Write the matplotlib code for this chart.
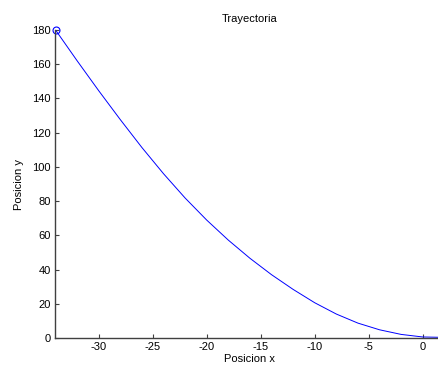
import matplotlib
matplotlib.use("Agg")
import matplotlib.pyplot as plt

# Data
pos_x = [-34.0, -32.0, -30.0, -28.0, -26.0, -24.0, -22.0, -20.0, -18.0, -16.0,
         -14.0, -12.0, -10.0, -8.0, -6.0, -4.0, -2.0, 0.0, 2.5]
pos_y = [180.0, 162.0, 144.5, 127.6, 111.3, 96.0, 81.8, 68.9, 57.2, 46.6,
         37.0, 28.4, 20.6, 14.0, 8.7, 4.8, 2.1, 0.6, 0.3]
x_ticks = [-30, -25, -20, -15, -10, -5, 0]
y_ticks = [0, 20, 40, 60, 80, 100, 120, 140, 160, 180]

plt.rcParams['font.family'] = ['Liberation Sans', 'DejaVu Sans']
W, H = 438, 369
fig = plt.figure(figsize=(W / 100, H / 100), dpi=100)
left, right, top, bottom = 55, 444, 30, 338
ax = fig.add_axes([left / W, 1 - bottom / H, (right - left) / W, (bottom - top) / H])

ax.plot(pos_x, pos_y, color='#0000ff', lw=0.7, clip_on=True)
ax.plot(pos_x[0], pos_y[0], 'o', mfc='none', mec='#0000ff', ms=5, mew=0.8, clip_on=False)

ax.set_xlim(-34.05, 1.97)
ax.set_ylim(0, 180)
ax.set_xticks(x_ticks)
ax.set_yticks(y_ticks)
ax.set_xticklabels([str(t) for t in x_ticks])

for s in ['top', 'right']:
    ax.spines[s].set_visible(False)
for s in ['left', 'bottom']:
    ax.spines[s].set_color('#404040')
    ax.spines[s].set_linewidth(1.0)
ax.tick_params(direction='in', length=3, width=0.8, color='#404040',
               labelsize=8, labelcolor='#000000', pad=3)

ax.set_title('Trayectoria', fontsize=8, pad=6)
ax.set_xlabel('Posicion x', fontsize=8, labelpad=1)
ax.set_ylabel('Posicion y', fontsize=8, labelpad=6)

fig.savefig('out.png', dpi=100)
